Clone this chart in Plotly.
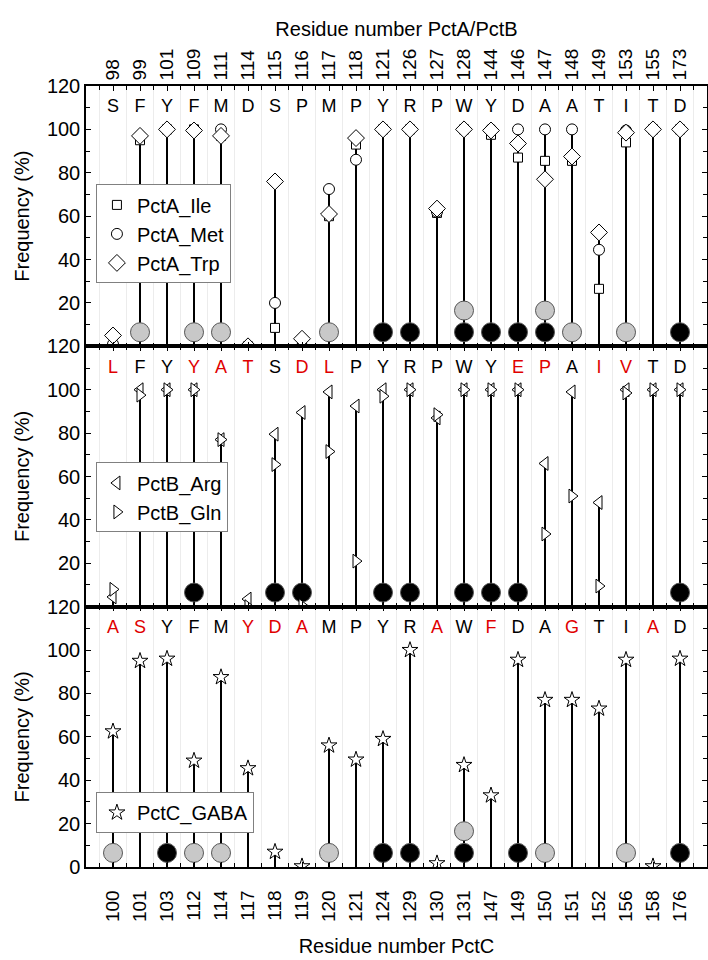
import plotly.graph_objects as go

# residue numbering
pcta_numbers = ["98", "99", "101", "109", "111", "114", "115", "116", "117", "118", "121",
                "126", "127", "128", "144", "146", "147", "148", "149", "153", "155", "173"]
pctc_numbers = ["100", "101", "103", "112", "114", "117", "118", "119", "120", "121", "124",
                "129", "130", "131", "147", "149", "150", "151", "152", "156", "158", "176"]

# residue letters per protein (1 = differs, drawn red)
pcta_letters = list("SFYFMDSPMPYRPWYDAATITD")
pctb_letters = list("LFYYATSDLPYRPWYEPAIVTD")
pctb_red = [1, 0, 0, 1, 1, 1, 0, 1, 1, 0, 0, 0, 0, 0, 0, 1, 1, 0, 1, 1, 0, 0]
pctc_letters = list("ASYFMYDAMPYRAWFDAGTIAD")
pctc_red = [1, 1, 0, 0, 0, 1, 1, 1, 0, 0, 0, 0, 1, 0, 1, 0, 0, 1, 0, 0, 1, 0]

# frequencies (%)
pcta_ile = [0, 95, 100, 100, 97, 0, 8.5, 0, 60, 93, 100, 100, 61.5, 100, 97.5, 87, 85.5, 85.5, 26.5, 94, 100, 100]
pcta_met = [1, 97, 100, 100, 100, 0, 20, 0, 72.5, 86, 100, 100, 62, 100, 100, 100, 100, 100, 44.5, 99.5, 100, 100]
pcta_trp = [5, 97, 100, 99.5, 97, 0, 76, 3.5, 61, 96, 100, 100, 63.5, 100, 99.5, 93.5, 77, 87.5, 52.5, 98.5, 100, 100]

pctb_arg = [4.5, 100, 100, 100, 77, 3.5, 79.5, 89.5, 99, 92.5, 100, 100, 87, 100, 100, 100, 66, 99, 48, 100, 100, 100]
pctb_gln = [8, 97.5, 100, 100, 77, 0, 65.5, 0.5, 71.5, 21, 97, 100, 88.5, 100, 100, 100, 33.5, 51, 9.5, 98.5, 100, 100]

pctc_gaba = [62.5, 95, 96, 49, 87.5, 45.5, 7, 0.3, 56, 49.5, 59, 100, 1.7, 47, 33, 95.5, 77, 77, 73, 95.5, 0.3, 96]

# contact markers: k = black, g = gray ("" = none); low row and stacked upper row
pcta_low = ["", "g", "", "g", "g", "", "", "", "g", "", "k", "k", "", "k", "k", "k", "k", "g", "", "g", "", "k"]
pcta_high = [""] * 13 + ["g", "", "", "g"] + [""] * 5
pctb_low = ["", "", "", "k", "", "", "k", "k", "", "", "k", "k", "", "k", "k", "k", "", "", "", "", "", "k"]
pctb_high = [""] * 22
pctc_low = ["g", "", "k", "g", "g", "", "", "", "g", "", "k", "k", "", "k", "", "k", "g", "", "", "g", "", "k"]
pctc_high = [""] * 13 + ["g"] + [""] * 8

LOW_Y, HIGH_Y, LETTER_Y = 6.5, 16.5, 110
FONT = "Liberation Sans, Arial, sans-serif"
RED = "#e00000"

idx = list(range(len(pcta_numbers)))
fig = go.Figure()


def add_panel(n, series, letters, red, low, high, legend):
    xa, ya = ("x", "y") if n == 1 else (f"x{n}", f"y{n}")
    # stems
    sx, sy = [], []
    for i in idx:
        top = max(s[1][i] for s in series)
        sx += [i, i, None]
        sy += [0, top, None]
    fig.add_trace(go.Scatter(x=sx, y=sy, mode="lines", line=dict(color="black", width=2),
                             showlegend=False, hoverinfo="skip", xaxis=xa, yaxis=ya))
    # contact ellipses
    for row, yv in ((low, LOW_Y), (high, HIGH_Y)):
        for kind, fill in (("k", "black"), ("g", "#c8c8c8")):
            xs = [i for i in idx if row[i] == kind]
            if xs:
                fig.add_trace(go.Scatter(
                    x=xs, y=[yv] * len(xs), mode="markers",
                    marker=dict(symbol="circle", size=19, color=fill,
                                line=dict(color="#555555", width=1)),
                    showlegend=False, hoverinfo="skip", xaxis=xa, yaxis=ya))
    # frequency markers
    for name, vals, sym, size in series:
        fig.add_trace(go.Scatter(
            x=idx, y=vals, mode="markers", name=name,
            marker=dict(symbol=sym, size=size, color="white", line=dict(color="black", width=1)),
            xaxis=xa, yaxis=ya, legend=legend))
    # residue letters
    fig.add_trace(go.Scatter(
        x=idx, y=[LETTER_Y] * len(idx), mode="text", text=letters,
        textfont=dict(family=FONT, size=18, color=[RED if r else "black" for r in red]),
        showlegend=False, hoverinfo="skip", xaxis=xa, yaxis=ya))


add_panel(1, [("PctA_Ile", pcta_ile, "square", 9),
              ("PctA_Met", pcta_met, "circle", 11),
              ("PctA_Trp", pcta_trp, "diamond", 13)],
          pcta_letters, [0] * 22, pcta_low, pcta_high, "legend")
add_panel(2, [("PctB_Arg", pctb_arg, "triangle-left", 12),
              ("PctB_Gln", pctb_gln, "triangle-right", 12)],
          pctb_letters, pctb_red, pctb_low, pctb_high, "legend2")
add_panel(3, [("PctC_GABA", pctc_gaba, "star", 12)],
          pctc_letters, pctc_red, pctc_low, pctc_high, "legend3")

xcommon = dict(range=[-1, 22], tickmode="array", tickvals=idx, ticks="inside", ticklen=5,
               tickcolor="black", showline=True, linecolor="black", linewidth=1.5,
               mirror="ticks", showgrid=False, zeroline=False, tickangle=-90, automargin=False,
               tickfont=dict(family=FONT, size=19, color="black"),
               minor=dict(tickmode="array", tickvals=[i + 0.5 for i in range(-1, 22)],
                          ticks="inside", ticklen=4, tickcolor="black",
                          showgrid=True, gridcolor="#ececec", gridwidth=1))
ycommon = dict(range=[0, 120], tickmode="array", ticks="inside", ticklen=5, tickcolor="black",
               showline=True, linecolor="black", linewidth=1.5, mirror="ticks",
               showgrid=False, zeroline=False, automargin=False,
               tickfont=dict(family=FONT, size=20, color="black"),
               minor=dict(dtick=10, tick0=0, ticks="inside", ticklen=4, tickcolor="black"),
               title=dict(text="Frequency (%)", font=dict(family=FONT, size=20, color="black"),
                          standoff=12))

leg = dict(bgcolor="white", bordercolor="#808080", borderwidth=1, xanchor="left", yanchor="top",
           x=0.016, font=dict(family=FONT, size=20, color="black"), tracegroupgap=0)

fig.update_layout(
    width=708, height=960,
    margin=dict(l=86, r=1, t=86, b=93),
    plot_bgcolor="white", paper_bgcolor="white",
    font=dict(family=FONT, color="black"),
    hovermode=False,
    xaxis=dict(xcommon, anchor="y", side="top", ticktext=pcta_numbers,
               title=dict(text="Residue number PctA/PctB",
                          font=dict(family=FONT, size=20), standoff=6)),
    xaxis2=dict(xcommon, anchor="y2", matches="x", showticklabels=False),
    xaxis3=dict(xcommon, anchor="y3", side="bottom", ticktext=pctc_numbers,
                ticklabelstandoff=14,
                title=dict(text="Residue number PctC",
                           font=dict(family=FONT, size=20), standoff=18)),
    yaxis=dict(ycommon, domain=[2 / 3, 1], anchor="x", tickvals=[20, 40, 60, 80, 100, 120]),
    yaxis2=dict(ycommon, domain=[1 / 3, 2 / 3], anchor="x2", tickvals=[20, 40, 60, 80, 100, 120]),
    yaxis3=dict(ycommon, domain=[0, 1 / 3], anchor="x3", tickvals=[0, 20, 40, 60, 80, 100, 120]),
    legend=dict(leg, y=0.874),
    legend2=dict(leg, y=0.518),
    legend3=dict(leg, y=0.096),
)

# the page's default body margin would shift the fixed-size figure
fig.write_html("out.html", config={"displayModeBar": False},
               post_script="document.body.style.margin='0px';")
